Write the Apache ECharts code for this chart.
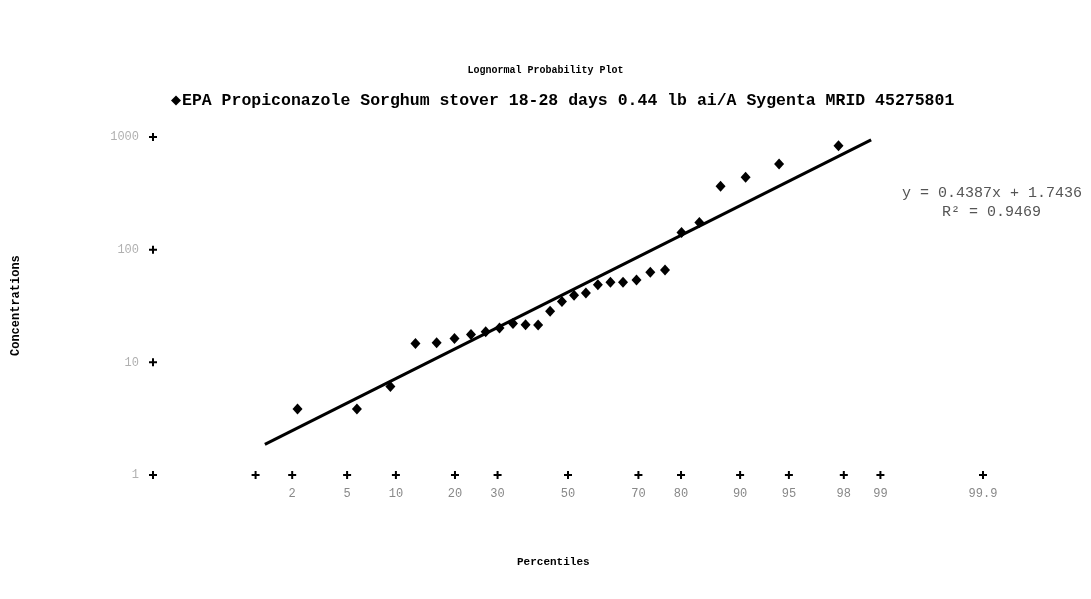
<!DOCTYPE html>
<html>
<head>
<meta charset="utf-8">
<script src="https://cdn.jsdelivr.net/npm/echarts@6/dist/echarts.min.js"></script>
<style>html,body{margin:0;padding:0;background:#fff;}#c{width:1091px;height:599px;}</style>
</head>
<body>
<div id="c"></div>
<script>
// ---- data ----
const seriesName = 'EPA Propiconazole Sorghum stover 18-28 days 0.44 lb ai/A Sygenta MRID 45275801';
const pointPercentiles = [2.2, 5.8, 9.3, 12.8, 16.4, 19.9, 23.5, 27.0, 30.5, 34.1, 37.6, 41.2, 44.7, 48.2,
  51.8, 55.3, 58.8, 62.4, 65.9, 69.5, 73.0, 76.5, 80.1, 83.6, 87.2, 90.7, 94.2, 97.8];
const pointConcentrations = [3.85, 3.85, 6.1, 14.7, 14.9, 16.3, 17.7, 18.7, 20.2, 22.1, 21.6, 21.4, 28.4, 34.7,
  39.3, 41.2, 48.8, 51.4, 51.4, 53.9, 63.1, 66.1, 142, 174, 366, 440, 576, 835];
const trendPercentiles = [1.2, 98.8];
const trendConcentrations = [1.87, 944];
const xTickPercentiles = [1, 2, 5, 10, 20, 30, 50, 70, 80, 90, 95, 98, 99, 99.9];
const xTickLabels = ['', '2', '5', '10', '20', '30', '50', '70', '80', '90', '95', '98', '99', '99.9'];
const yTickValues = [1, 10, 100, 1000];
const yTickLabels = ['1', '10', '100', '1000'];
const yAxisPercentile = 0.1;
const equationText = 'y = 0.4387x + 1.7436';
const r2Text = 'R\u00b2 = 0.9469';

// probability (probit) scale transform: percentile -> standard normal quantile
function probit(pct) {
  const p = pct / 100;
  const a = [-3.969683028665376e+01, 2.209460984245205e+02, -2.759285104469687e+02, 1.383577518672690e+02, -3.066479806614716e+01, 2.506628277459239e+00];
  const b = [-5.447609879822406e+01, 1.615858368580409e+02, -1.556989798598866e+02, 6.680131188771972e+01, -1.328068155288572e+01];
  const c = [-7.784894002430293e-03, -3.223964580411365e-01, -2.400758277161838e+00, -2.549732539343734e+00, 4.374664141464968e+00, 2.938163982698783e+00];
  const d = [7.784695709041462e-03, 3.224671290700398e-01, 2.445134137142996e+00, 3.754408661907416e+00];
  const pl = 0.02425, ph = 1 - pl;
  let q, r;
  if (p < pl) {
    q = Math.sqrt(-2 * Math.log(p));
    return (((((c[0]*q+c[1])*q+c[2])*q+c[3])*q+c[4])*q+c[5]) / ((((d[0]*q+d[1])*q+d[2])*q+d[3])*q+1);
  } else if (p <= ph) {
    q = p - 0.5; r = q * q;
    return (((((a[0]*r+a[1])*r+a[2])*r+a[3])*r+a[4])*r+a[5])*q / (((((b[0]*r+b[1])*r+b[2])*r+b[3])*r+b[4])*r+1);
  } else {
    q = Math.sqrt(-2 * Math.log(1 - p));
    return -(((((c[0]*q+c[1])*q+c[2])*q+c[3])*q+c[4])*q+c[5]) / ((((d[0]*q+d[1])*q+d[2])*q+d[3])*q+1);
  }
}

const zMin = probit(0.1), zMax = probit(99.9);
const plus = 'path://M3,0H5V3H8V5H5V8H3V5H0V3H3Z';
const mono = 'Liberation Mono';

const chart = echarts.init(document.getElementById('c'), null, {renderer: 'canvas'});
chart.setOption({
  backgroundColor: '#fff',
  animation: false,
  title: {
    text: 'Lognormal Probability Plot', left: 'center', top: 60,
    textStyle: {fontFamily: mono, fontWeight: 'bold', fontSize: 10, color: '#000'}
  },
  legend: {
    data: [seriesName], left: 166, top: 87, icon: 'diamond', itemWidth: 10, itemHeight: 10, itemGap: 2,
    textStyle: {fontFamily: mono, fontWeight: 'bold', fontSize: 16.5, color: '#000', padding: [0, 0, 0, -4]}
  },
  grid: {left: 153, right: 108, top: 137, bottom: 124},
  xAxis: {type: 'value', min: zMin, max: zMax, show: false},
  yAxis: {type: 'log', logBase: 10, min: 1, max: 1000, show: false},
  graphic: [
    {type: 'text', left: 902, top: 186, style: {text: equationText, font: '15px "Liberation Mono"', fill: '#555'}},
    {type: 'text', left: 942, top: 205, style: {text: r2Text, font: '15px "Liberation Mono"', fill: '#555'}},
    {type: 'text', left: 517, top: 557, style: {text: 'Percentiles', font: 'bold 11px "Liberation Mono"', fill: '#000'}},
    {type: 'text', x: 10, y: 356, rotation: Math.PI / 2, style: {text: 'Concentrations', font: 'bold 12px "Liberation Mono"', fill: '#000'}}
  ],
  series: [
    {
      name: 'xticks', type: 'scatter', clip: false, symbol: plus, symbolSize: 8, silent: true,
      itemStyle: {color: '#000', opacity: 1},
      data: xTickPercentiles.map((p, i) => ({value: [probit(p), 1], label: {formatter: xTickLabels[i]}})),
      label: {show: true, position: 'bottom', distance: 9, fontFamily: mono, fontSize: 12, color: '#888'}
    },
    {
      name: 'yticks', type: 'scatter', clip: false, symbol: plus, symbolSize: 8, silent: true,
      itemStyle: {color: '#000', opacity: 1},
      data: yTickValues.map((v, i) => ({value: [probit(yAxisPercentile), v], label: {formatter: yTickLabels[i]}})),
      label: {show: true, position: 'left', distance: 10, fontFamily: mono, fontSize: 12, color: '#b0b0b0'}
    },
    {
      name: 'trend', type: 'line', clip: false, symbol: 'none', silent: true,
      lineStyle: {color: '#000', width: 3},
      data: trendPercentiles.map((p, i) => [probit(p), trendConcentrations[i]])
    },
    {
      name: seriesName, type: 'scatter', clip: false, symbol: 'diamond', symbolSize: [10, 11],
      itemStyle: {color: '#000', opacity: 1},
      data: pointPercentiles.map((p, i) => [probit(p), pointConcentrations[i]])
    }
  ]
});
</script>
</body>
</html>
